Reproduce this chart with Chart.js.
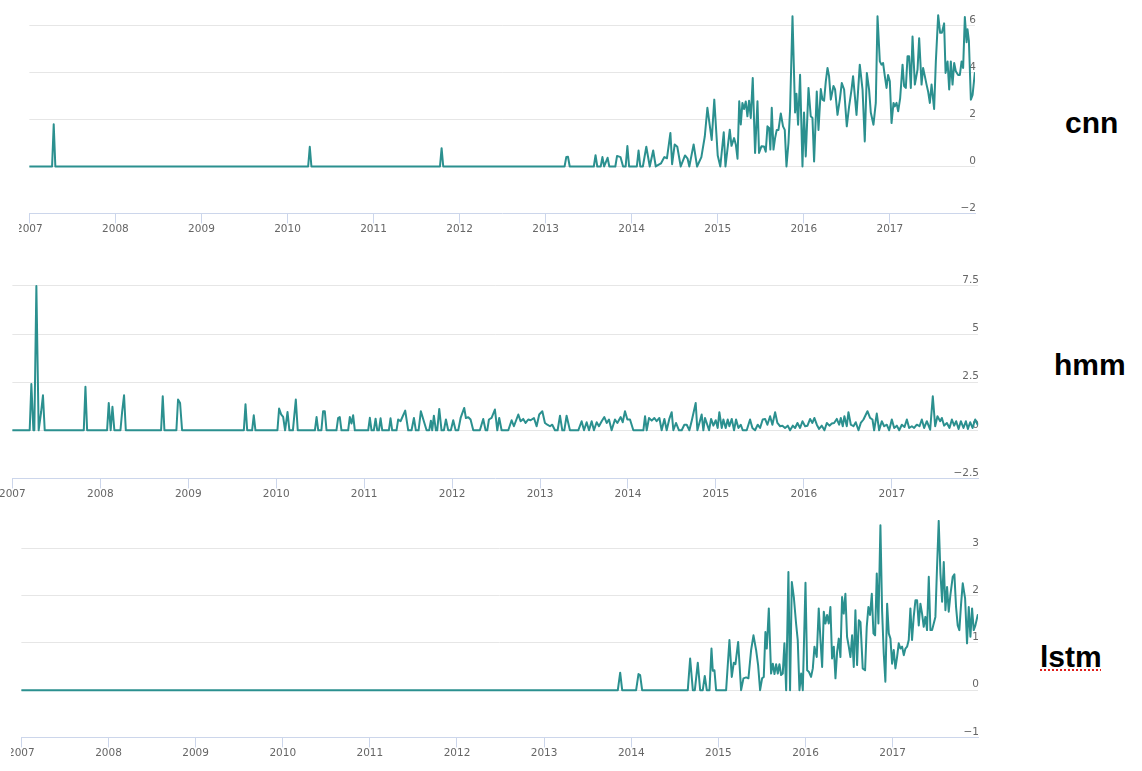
<!DOCTYPE html>
<html>
<head>
<meta charset="utf-8">
<script src="https://cdn.jsdelivr.net/npm/chart.js@4.4.1/dist/chart.umd.min.js"></script>
<style>
  html, body { margin: 0; padding: 0; background: #fff; }
  body { width: 1142px; height: 771px; position: relative; overflow: hidden; }
  .wrap { position: absolute; overflow: hidden; }
  .wrap canvas { position: absolute; }
  .name { position: absolute; font: bold 30px "Liberation Sans", Arial, sans-serif; line-height: 30px; color: #000; white-space: nowrap; }
  .spell { text-decoration: underline dotted #e0201c; text-decoration-thickness: 2px; text-underline-offset: 2px; }
</style>
</head>
<body>
<div class="wrap" id="w1" style="left:19px;top:0px;width:1123px;height:250px"><canvas id="c1"></canvas></div>
<div class="wrap" id="w2" style="left:0px;top:250px;width:1142px;height:258px"><canvas id="c2"></canvas></div>
<div class="wrap" id="w3" style="left:11px;top:508px;width:1131px;height:263px"><canvas id="c3"></canvas></div>
<div class="name" style="left:1065px;top:108px">cnn</div>
<div class="name" style="left:1054px;top:350px">hmm</div>
<div class="name" style="left:1040px;top:642px"><span class="spell">lstm</span></div>
<script>
// ---------- DATA ----------
const years = [2007, 2008, 2009, 2010, 2011, 2012, 2013, 2014, 2015, 2016, 2017];
const seriesNames = ["cnn", "hmm", "lstm"];
const cnnYTicks = [-2, 0, 2, 4, 6];
const hmmYTicks = [-2.5, 0, 2.5, 5, 7.5];
const lstmYTicks = [-1, 0, 1, 2, 3];

// [decimal year, value]
const cnnPoints = [
[2007.000,0],[2007.264,0],[2007.283,1.8],[2007.302,0],[2010.240,0],[2010.259,0.84],[2010.278,0],
[2011.772,0],[2011.791,0.78],[2011.810,0],[2013.220,0],[2013.240,0.40],[2013.260,0.41],[2013.280,0],
[2013.560,0],[2013.580,0.48],[2013.600,0],[2013.640,0],[2013.660,0.40],[2013.680,0],[2013.720,0.37],[2013.740,0],
[2013.810,0],[2013.830,0.45],[2013.870,0.40],[2013.900,0],[2013.930,0],[2013.950,0.87],[2013.970,0],
[2014.060,0],[2014.080,0.68],[2014.100,0],[2014.130,0],[2014.170,0.84],[2014.210,0],[2014.250,0.68],[2014.280,0],
[2014.340,0.13],[2014.380,0.40],[2014.410,0.35],[2014.450,1.43],[2014.470,0.10],[2014.500,0.94],[2014.530,0.84],
[2014.570,0],[2014.620,0.47],[2014.650,0.33],[2014.670,0],[2014.720,0.94],[2014.760,0],[2014.810,0.40],
[2014.850,1.29],[2014.880,2.50],[2014.930,1.13],[2014.960,2.85],[2015.000,0.47],[2015.030,0],[2015.070,1.46],
[2015.090,0],[2015.140,1.57],[2015.160,0.88],[2015.190,1.21],[2015.210,0.94],[2015.230,0.33],[2015.250,2.78],
[2015.268,1.79],[2015.287,2.71],[2015.306,2.45],[2015.326,2.77],[2015.345,2.14],[2015.364,2.80],[2015.384,2.07],
[2015.407,3.77],[2015.434,0.58],[2015.462,2.78],[2015.480,0.58],[2015.508,0.86],[2015.538,0.85],[2015.558,0.63],
[2015.578,1.71],[2015.597,1.64],[2015.612,0.72],[2015.628,2.50],[2015.648,0.72],[2015.666,1.20],[2015.686,1.56],
[2015.706,1.56],[2015.733,2.26],[2015.759,1.71],[2015.779,1.56],[2015.799,0],[2015.822,1.00],[2015.841,2.45],
[2015.869,6.40],[2015.899,2.30],[2015.915,3.10],[2015.934,1.78],[2015.957,3.91],[2015.985,0],[2016.003,2.30],
[2016.023,0.43],[2016.055,3.35],[2016.081,2.14],[2016.101,2.07],[2016.120,0.21],[2016.151,3.20],[2016.171,1.56],
[2016.198,3.30],[2016.217,2.85],[2016.236,2.80],[2016.256,3.63],[2016.276,4.20],[2016.294,3.85],[2016.314,2.85],
[2016.345,3.43],[2016.364,3.28],[2016.392,2.20],[2016.419,2.85],[2016.442,3.56],[2016.469,3.28],[2016.500,1.71],
[2016.527,2.56],[2016.555,3.28],[2016.573,3.85],[2016.613,2.20],[2016.651,4.34],[2016.683,3.28],[2016.709,1.07],
[2016.733,3.99],[2016.759,3.28],[2016.779,2.30],[2016.810,1.78],[2016.837,2.71],[2016.857,6.40],[2016.884,4.48],
[2016.903,4.34],[2016.922,4.41],[2016.942,3.85],[2016.962,3.35],[2016.980,3.90],[2017.000,3.63],[2017.020,1.85],
[2017.043,2.71],[2017.058,2.56],[2017.078,2.71],[2017.097,2.35],[2017.120,2.90],[2017.148,4.34],[2017.166,3.43],
[2017.186,3.35],[2017.206,4.70],[2017.224,4.70],[2017.244,3.35],[2017.264,5.54],[2017.291,3.49],[2017.322,4.13],
[2017.341,5.47],[2017.369,3.49],[2017.387,4.20],[2017.407,3.85],[2017.427,3.49],[2017.445,3.20],[2017.465,2.71],
[2017.485,3.49],[2017.515,2.45],[2017.535,4.48],[2017.562,6.45],[2017.585,5.70],[2017.605,5.70],[2017.631,6.10],
[2017.648,3.99],[2017.671,4.48],[2017.690,3.28],[2017.709,4.48],[2017.729,3.49],[2017.748,4.41],[2017.767,4.06],
[2017.794,3.90],[2017.814,3.90],[2017.834,4.48],[2017.852,4.20],[2017.872,6.37],[2017.892,5.30],[2017.903,5.85],
[2017.919,5.35],[2017.942,2.85],[2017.962,3.05],[2017.988,3.99]
];

const hmmPoints = [
[2007.000,0],[2007.197,0],[2007.216,2.40],[2007.239,0],[2007.250,0],[2007.273,7.50],[2007.299,0],[2007.327,0.95],
[2007.348,1.82],[2007.368,0],[2007.812,0],[2007.831,2.26],[2007.850,0],[2008.077,0],[2008.096,1.42],[2008.118,0],
[2008.138,1.22],[2008.160,0],[2008.229,0],[2008.249,1.00],[2008.270,1.82],[2008.290,0],[2008.691,0],[2008.710,1.77],
[2008.729,0],[2008.865,0],[2008.884,1.60],[2008.907,1.42],[2008.930,0],[2009.632,0],[2009.651,1.35],[2009.670,0],
[2009.726,0],[2009.745,0.78],[2009.764,0],[2010.014,0],[2010.033,1.13],[2010.056,0.83],[2010.079,0.70],[2010.101,0],
[2010.129,0.95],[2010.150,0],[2010.190,0],[2010.223,1.60],[2010.245,0],[2010.440,0],[2010.459,0.69],[2010.478,0],
[2010.514,0],[2010.533,0.99],[2010.553,0.99],[2010.572,0],[2010.685,0],[2010.704,0.63],[2010.723,0.69],[2010.742,0],
[2010.818,0],[2010.837,0.69],[2010.856,0.35],[2010.875,0.78],[2010.894,0],[2011.046,0],[2011.065,0.65],[2011.084,0],
[2011.110,0],[2011.130,0.60],[2011.149,0],[2011.168,0],[2011.187,0.62],[2011.206,0],[2011.281,0],[2011.300,0.62],
[2011.319,0],[2011.368,0],[2011.387,0.56],[2011.414,0.47],[2011.467,1.02],[2011.501,0],[2011.539,0],[2011.566,0.64],
[2011.588,0],[2011.619,0],[2011.645,0.99],[2011.679,0.47],[2011.710,0],[2011.740,0],[2011.759,0.50],[2011.774,0],
[2011.793,0.76],[2011.816,0],[2011.831,0],[2011.854,1.11],[2011.880,0],[2011.907,0],[2011.930,0.56],[2011.956,0],
[2011.986,0],[2012.013,0.52],[2012.040,0],[2012.070,0],[2012.097,0.64],[2012.138,1.16],[2012.157,0.64],[2012.184,0.68],
[2012.210,0.56],[2012.241,0],[2012.316,0],[2012.354,0.59],[2012.381,0],[2012.400,0],[2012.419,0.56],[2012.449,0.64],
[2012.487,1.08],[2012.514,0],[2012.536,0.64],[2012.563,0],[2012.639,0],[2012.677,0.52],[2012.703,0.21],[2012.753,0.82],
[2012.779,0.47],[2012.809,0.59],[2012.836,0.38],[2012.866,0.56],[2012.893,0.52],[2012.931,0.64],[2012.961,0.21],
[2012.991,0.82],[2013.026,0.99],[2013.056,0.38],[2013.083,0.29],[2013.113,0.21],[2013.139,0.29],[2013.170,0],
[2013.200,0],[2013.227,0.76],[2013.253,0],[2013.276,0],[2013.302,0.76],[2013.340,0],[2013.435,0],[2013.473,0.47],
[2013.500,0],[2013.530,0.42],[2013.557,0],[2013.587,0.47],[2013.613,0],[2013.644,0.42],[2013.670,0.21],[2013.701,0.47],
[2013.731,0.69],[2013.758,0.38],[2013.784,0.56],[2013.814,0],[2013.852,0.56],[2013.879,0.38],[2013.917,0.69],
[2013.940,0.42],[2013.966,0.99],[2013.993,0.56],[2014.023,0.56],[2014.061,0],[2014.175,0],[2014.194,0.73],[2014.213,0],
[2014.239,0.64],[2014.270,0.50],[2014.300,0.64],[2014.326,0.47],[2014.357,0.64],[2014.383,0],[2014.414,0.59],
[2014.440,0],[2014.470,0.59],[2014.497,0.94],[2014.516,0],[2014.546,0.38],[2014.580,0],[2014.611,0],[2014.641,0.29],
[2014.668,0.29],[2014.698,0],[2014.725,0.50],[2014.770,1.42],[2014.789,0],[2014.812,0.38],[2014.838,0.82],[2014.857,0],
[2014.876,0.64],[2014.895,0.38],[2014.922,0],[2014.945,0.59],[2014.971,0.24],[2014.998,0.52],[2015.020,0.12],
[2015.039,0.94],[2015.066,0.12],[2015.085,0.56],[2015.111,0.12],[2015.134,0.56],[2015.153,0.21],[2015.180,0.59],
[2015.206,0],[2015.229,0.56],[2015.256,0.12],[2015.282,0.29],[2015.305,0],[2015.350,0],[2015.388,0.56],[2015.415,0.12],
[2015.445,0],[2015.475,0.29],[2015.502,0.12],[2015.532,0.56],[2015.559,0.59],[2015.585,0.29],[2015.616,0.73],
[2015.642,0.29],[2015.673,0.94],[2015.699,0.38],[2015.730,0.21],[2015.756,0.24],[2015.786,0.12],[2015.817,0.24],
[2015.843,0],[2015.874,0.24],[2015.900,0.12],[2015.927,0.38],[2015.957,0.12],[2015.984,0.47],[2016.014,0.21],
[2016.041,0.24],[2016.071,0.59],[2016.097,0.38],[2016.120,0.64],[2016.147,0.29],[2016.173,0.07],[2016.204,0.24],
[2016.234,0],[2016.261,0.38],[2016.291,0.24],[2016.317,0.35],[2016.344,0.38],[2016.374,0.59],[2016.401,0.29],
[2016.420,0.64],[2016.442,0.21],[2016.461,0.73],[2016.488,0.21],[2016.507,0.94],[2016.534,0.29],[2016.564,0.21],
[2016.590,0.42],[2016.621,0],[2016.647,0.38],[2016.678,0.56],[2016.723,0.99],[2016.753,0.64],[2016.780,0.56],
[2016.799,0],[2016.829,0.87],[2016.856,0],[2016.886,0.47],[2016.913,0.21],[2016.943,0.29],[2016.970,0],[2017.000,0.56],
[2017.027,0.12],[2017.057,0.24],[2017.084,0],[2017.114,0.29],[2017.144,0.17],[2017.171,0.56],[2017.197,0.12],
[2017.228,0.21],[2017.254,0.12],[2017.284,0.29],[2017.315,0.21],[2017.341,0.56],[2017.368,0.12],[2017.398,0.47],
[2017.436,0.03],[2017.466,1.77],[2017.493,0.21],[2017.519,0.73],[2017.550,0.47],[2017.569,0.64],[2017.595,0.24],
[2017.626,0.38],[2017.656,0.12],[2017.683,0.56],[2017.709,0.24],[2017.732,0.47],[2017.759,0.07],[2017.785,0.47],
[2017.815,0.12],[2017.842,0.47],[2017.865,0.07],[2017.891,0.42],[2017.918,0.12],[2017.948,0.56],[2017.975,0.29]
];

const lstmPoints = [
[2007.000,0],[2013.846,0],[2013.873,0.37],[2013.896,0],[2014.056,0],[2014.083,0.34],[2014.102,0.32],[2014.125,0],
[2014.649,0],[2014.676,0.67],[2014.707,0],[2014.730,0],[2014.764,0.58],[2014.791,0],[2014.821,0],[2014.844,0.30],
[2014.867,0],[2014.898,0],[2014.921,0.88],[2014.936,0.41],[2014.955,0.42],[2014.974,0],[2015.089,0],[2015.127,1.06],
[2015.154,0.28],[2015.177,0.58],[2015.196,0.55],[2015.227,1.02],[2015.261,0],[2015.288,0.25],[2015.319,0.27],
[2015.345,0.25],[2015.376,0.85],[2015.403,1.16],[2015.433,0.85],[2015.456,0.53],[2015.479,0],[2015.502,0.25],
[2015.521,0.28],[2015.540,1.23],[2015.556,0.88],[2015.579,1.73],[2015.605,0.35],[2015.625,0.56],[2015.644,0.34],
[2015.663,0.55],[2015.682,0.35],[2015.701,0.55],[2015.720,0.32],[2015.739,0.35],[2015.758,0.99],[2015.778,0],
[2015.804,2.50],[2015.823,0],[2015.843,2.29],[2015.866,1.97],[2015.892,1.41],[2015.911,1.06],[2015.931,0],
[2015.950,0.35],[2015.969,0],[2016.000,2.27],[2016.019,0.42],[2016.038,0.39],[2016.064,0.28],[2016.084,0.46],
[2016.103,0.92],[2016.129,0.70],[2016.152,1.73],[2016.172,1.06],[2016.191,0.49],[2016.210,1.66],[2016.229,1.41],
[2016.248,1.59],[2016.267,1.41],[2016.286,1.76],[2016.305,0.67],[2016.325,0.92],[2016.344,0.25],[2016.363,0.81],
[2016.382,1.09],[2016.401,0.70],[2016.420,1.97],[2016.439,1.62],[2016.458,2.04],[2016.477,1.13],[2016.497,0.92],
[2016.516,0.70],[2016.535,1.16],[2016.554,0.49],[2016.573,1.69],[2016.592,0.53],[2016.612,1.48],[2016.631,1.44],
[2016.657,0.46],[2016.684,0.42],[2016.703,1.34],[2016.722,1.76],[2016.741,1.59],[2016.761,2.04],[2016.780,1.20],
[2016.799,1.16],[2016.818,2.47],[2016.837,1.41],[2016.860,3.49],[2016.879,1.69],[2016.898,0.78],[2016.917,0.18],
[2016.937,1.83],[2016.956,1.20],[2016.975,1.09],[2016.994,0.56],[2017.013,0.85],[2017.032,0.46],[2017.051,0.70],
[2017.070,0.99],[2017.089,0.88],[2017.109,0.92],[2017.128,0.74],[2017.147,0.88],[2017.166,0.92],[2017.185,1.06],
[2017.204,1.73],[2017.223,1.06],[2017.242,1.55],[2017.262,1.90],[2017.281,1.90],[2017.300,1.37],[2017.319,1.83],
[2017.338,1.62],[2017.357,1.34],[2017.376,1.55],[2017.395,1.27],[2017.415,2.40],[2017.434,1.27],[2017.453,1.27],
[2017.472,1.41],[2017.491,1.55],[2017.510,2.61],[2017.529,3.58],[2017.549,2.47],[2017.568,1.87],[2017.587,2.71],
[2017.606,1.69],[2017.625,2.18],[2017.644,1.66],[2017.663,2.01],[2017.690,2.40],[2017.709,2.45],[2017.728,1.76],
[2017.747,1.37],[2017.766,1.27],[2017.786,1.83],[2017.805,2.26],[2017.832,1.94],[2017.854,0.99],[2017.874,1.76],
[2017.893,1.13],[2017.912,1.73],[2017.931,1.27],[2017.950,1.37],[2017.977,1.59]
];

// ---------- STYLE ----------
const LINE = '#2b908f';
const GRID = '#e6e6e6';
const AXIS = '#ccd6eb';
const LABEL = '#666666';
const TICKFONT = { family: '"DejaVu Sans", "Open Sans", sans-serif', size: 10.5 };

function fmt(v) {
  return v < 0 ? '\u2212' + String(Math.abs(v)) : String(v);
}

function config(points, yTicks, yMin, yMax, xMax) {
  return {
    type: 'line',
    data: {
      datasets: [{
        data: points.map(p => ({ x: p[0], y: p[1] })),
        borderColor: LINE,
        borderWidth: 2,
        pointRadius: 0,
        tension: 0,
        fill: false,
        borderJoinStyle: 'round',
        borderCapStyle: 'round'
      }]
    },
    options: {
      responsive: false,
      maintainAspectRatio: false,
      animation: false,
      events: [],
      layout: { padding: { top: 14, left: 0, right: 0, bottom: 0 } },
      plugins: { legend: { display: false }, tooltip: { enabled: false }, title: { display: false } },
      scales: {
        x: {
          type: 'linear',
          min: 2007,
          max: xMax,
          afterBuildTicks: s => { s.ticks = years.map(v => ({ value: v })); },
          ticks: { callback: v => String(v), color: LABEL, font: TICKFONT, padding: 0, maxRotation: 0, autoSkip: false },
          grid: { drawOnChartArea: false, drawTicks: true, tickLength: 10, color: AXIS, tickColor: AXIS, lineWidth: 1 },
          border: { display: true, color: AXIS, width: 1 }
        },
        y: {
          position: 'right',
          min: yMin,
          max: yMax,
          afterBuildTicks: s => { s.ticks = yTicks.map(v => ({ value: v })); },
          ticks: { mirror: true, padding: 1, labelOffset: -5.5, callback: v => fmt(v), color: LABEL, font: TICKFONT },
          grid: { drawTicks: false, color: ctx => (ctx.tick && ctx.tick.value === yMin) ? 'rgba(0,0,0,0)' : GRID, lineWidth: 1 },
          border: { display: false }
        }
      }
    }
  };
}

// place the chart so that its plot area lands on the target rectangle
function build(canvasId, wrap, points, yTicks, yMin, yMax, xMax, target) {
  const canvas = document.getElementById(canvasId);
  canvas.width = 1000; canvas.height = 260;
  let ch = new Chart(canvas, config(points, yTicks, yMin, yMax, xMax));
  const a = ch.chartArea;
  const L = a.left, T = a.top, R = ch.width - a.right, B = ch.height - a.bottom;
  ch.destroy();
  const W = Math.round(target.r - target.l + L + R);
  const H = Math.round(target.b - target.t + T + B);
  canvas.width = W; canvas.height = H;
  canvas.style.width = W + 'px'; canvas.style.height = H + 'px';
  canvas.style.left = (target.l - L - wrap.l) + 'px';
  canvas.style.top = (target.t - T - wrap.t) + 'px';
  new Chart(canvas, config(points, yTicks, yMin, yMax, xMax));
}

build('c1', { l: 19, t: 0 }, cnnPoints, cnnYTicks, -2, 6.5, 2017.99,
  { l: 29, r: 29 + 10.99 * 86, t: 167 - 6.5 * 23.5, b: 214 });
build('c2', { l: 0, t: 250 }, hmmPoints, hmmYTicks, -2.5, 7.6, 2017.98,
  { l: 12.7, r: 12.7 + 10.98 * 87.9, t: 430 - 7.6 * 19.2, b: 478 });
build('c3', { l: 11, t: 508 }, lstmPoints, lstmYTicks, -1, 3.6, 2017.98,
  { l: 21.7, r: 21.7 + 10.98 * 87.15, t: 690 - 3.6 * 47.3, b: 737.3 });
</script>
</body>
</html>
